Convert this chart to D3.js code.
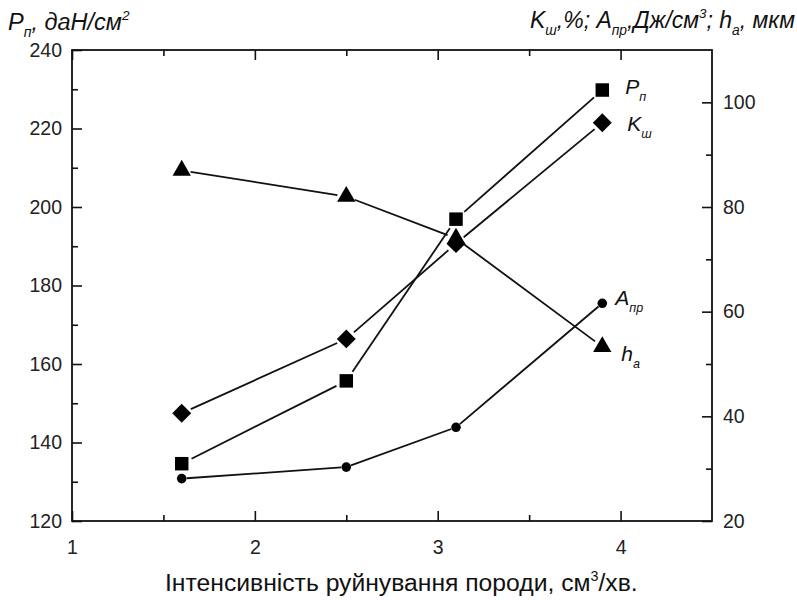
<!DOCTYPE html>
<html>
<head>
<meta charset="utf-8">
<script src="https://cdn.jsdelivr.net/npm/d3@7"></script>
<style>
  html, body { margin: 0; padding: 0; background: #fff; }
  svg { display: block; font-family: "Liberation Sans", Arial, sans-serif; }
  .tick text { fill: #222; font-size: 19.5px; }
</style>
</head>
<body>
<svg id="chart" width="797" height="600"></svg>
<script>
// Intensity of rock destruction, cm3/min
const intensity = [1.6, 2.5, 3.1, 3.9];
// Pп, даН/см2 (left axis)
const pressure = [134.6, 155.7, 196.9, 229.8];
// Kш, % (right axis)
const kSh = [40.6, 54.8, 73.0, 96.1];
// Aпр, Дж/см3 (right axis)
const aPr = [28.1, 30.3, 37.9, 61.6];
// hа, мкм (right axis)
const hA = [87.0, 82.0, 74.0, 53.3];

const xMajor = [1, 2, 3, 4];
const xMinor = [1.5, 2.5, 3.5];
const leftMajor = [120, 140, 160, 180, 200, 220, 240];
const leftMinor = [130, 150, 170, 190, 210, 230];
const rightMajor = [20, 40, 60, 80, 100];
const rightMinor = [30, 50, 70, 90];

const svg = d3.select("#chart");
const L = 72, R = 712, T = 50, B = 521;

const x = d3.scaleLinear().domain([1, 4.5]).range([L, R]);
const yL = d3.scaleLinear().domain([120, 240]).range([B, T]);
const yR = d3.scaleLinear().domain([20, 110]).range([B, T]);

const MAJ = 10, MIN = 6;

function axisGroup(gen, tx, ty) {
  const g = svg.append("g").attr("transform", `translate(${tx},${ty})`).call(gen);
  g.select(".domain").remove();
  g.selectAll(".tick line").attr("stroke", "#111").attr("stroke-width", 1.6);
  return g;
}

// bottom axis
axisGroup(d3.axisBottom(x).tickValues(xMajor).tickSize(-MAJ).tickPadding(19).tickFormat(d3.format("d")), 0, B);
axisGroup(d3.axisBottom(x).tickValues(xMinor).tickSize(-MIN).tickFormat(""), 0, B);
// top axis
axisGroup(d3.axisTop(x).tickValues(xMajor).tickSize(-MAJ).tickFormat(""), 0, T);
axisGroup(d3.axisTop(x).tickValues(xMinor).tickSize(-MIN).tickFormat(""), 0, T);
// left axis
axisGroup(d3.axisLeft(yL).tickValues(leftMajor).tickSize(-MAJ).tickPadding(10).tickFormat(d3.format("d")), L, 0);
axisGroup(d3.axisLeft(yL).tickValues(leftMinor).tickSize(-MIN).tickFormat(""), L, 0);
// right axis
axisGroup(d3.axisRight(yR).tickValues(rightMajor).tickSize(-MAJ).tickPadding(11).tickFormat(d3.format("d")), R, 0);
axisGroup(d3.axisRight(yR).tickValues(rightMinor).tickSize(-MIN).tickFormat(""), R, 0);

// frame
svg.append("rect")
  .attr("x", L).attr("y", T).attr("width", R - L).attr("height", B - T)
  .attr("fill", "none").attr("stroke", "#111").attr("stroke-width", 1.8);

// series: lines broken near each symbol
const series = [
  { vals: pressure, y: yL, sym: "square", gap: 11 },
  { vals: kSh, y: yR, sym: "diamond", gap: 10 },
  { vals: aPr, y: yR, sym: "circle", gap: 5 },
  { vals: hA, y: yR, sym: "triangle", gap: 9 }
];

const symGen = {
  square: d3.symbol().type(d3.symbolSquare).size(182)(),
  diamond: d3.symbol().type(d3.symbolSquare).size(180)(),
  circle: d3.symbol().type(d3.symbolCircle).size(72)(),
  triangle: d3.symbol().type(d3.symbolTriangle).size(145)()
};

series.forEach(s => {
  const pts = intensity.map((v, i) => [x(v), s.y(s.vals[i])]);
  const segs = d3.pairs(pts).map(([a, b]) => {
    const dx = b[0] - a[0], dy = b[1] - a[1];
    const len = Math.hypot(dx, dy);
    const ux = dx / len, uy = dy / len;
    return [[a[0] + ux * s.gap, a[1] + uy * s.gap], [b[0] - ux * s.gap, b[1] - uy * s.gap]];
  });
  svg.append("g").selectAll("path").data(segs).join("path")
    .attr("d", d => d3.line()(d))
    .attr("stroke", "#111").attr("stroke-width", 1.8).attr("fill", "none");
  svg.append("g").selectAll("path").data(pts).join("path")
    .attr("d", symGen[s.sym])
    .attr("transform", d => `translate(${d[0]},${d[1]})` + (s.sym === "diamond" ? " rotate(45)" : ""))
    .attr("fill", "#000");
});

// text helper with sub/superscripts
function richText(parent, parts, attrs) {
  const t = parent.append("text");
  Object.entries(attrs).forEach(([k, v]) => t.attr(k, v));
  let shift = 0;
  parts.forEach(p => {
    const target = p.sub ? 7 : p.sup ? -10 : 0;
    const span = t.append("tspan").text(p.t).attr("dy", target - shift);
    if (p.sub || p.sup) span.attr("font-size", p.sub ? "0.6em" : "0.58em");
    shift = target;
  });
  return t;
}

const lastX = x(intensity[3]);
const labelStyle = { "font-size": 21, "font-style": "italic", fill: "#111" };
richText(svg, [{ t: "P" }, { t: "п", sub: true }],
  Object.assign({ x: lastX + 23, y: yL(pressure[3]) + 4 }, labelStyle));
richText(svg, [{ t: "K" }, { t: "ш", sub: true }],
  Object.assign({ x: lastX + 25, y: yR(kSh[3]) + 8 }, labelStyle));
richText(svg, [{ t: "A" }, { t: "пр", sub: true }],
  Object.assign({ x: lastX + 13, y: yR(aPr[3]) + 2 }, labelStyle));
richText(svg, [{ t: "h" }, { t: "а", sub: true }],
  Object.assign({ x: lastX + 19, y: yR(hA[3]) + 14 }, labelStyle));

// axis titles
const titleStyle = { "font-style": "italic", fill: "#111" };
richText(svg, [{ t: "P" }, { t: "п", sub: true }, { t: ", даН/см" }, { t: "2", sup: true }],
  Object.assign({ x: 8, y: 30, "font-size": 23.5 }, titleStyle));
richText(svg, [{ t: "K" }, { t: "ш", sub: true }, { t: ",%; A" }, { t: "пр", sub: true },
  { t: ",Дж/см" }, { t: "3", sup: true }, { t: "; h" }, { t: "а", sub: true }, { t: ", мкм" }],
  Object.assign({ x: 530, y: 28, "font-size": 23 }, titleStyle));
richText(svg, [{ t: "Інтенсивність руйнування породи, см" }, { t: "3", sup: true }, { t: "/хв." }],
  { x: 165, y: 591, "font-size": 24.7, fill: "#111" });
</script>
</body>
</html>
